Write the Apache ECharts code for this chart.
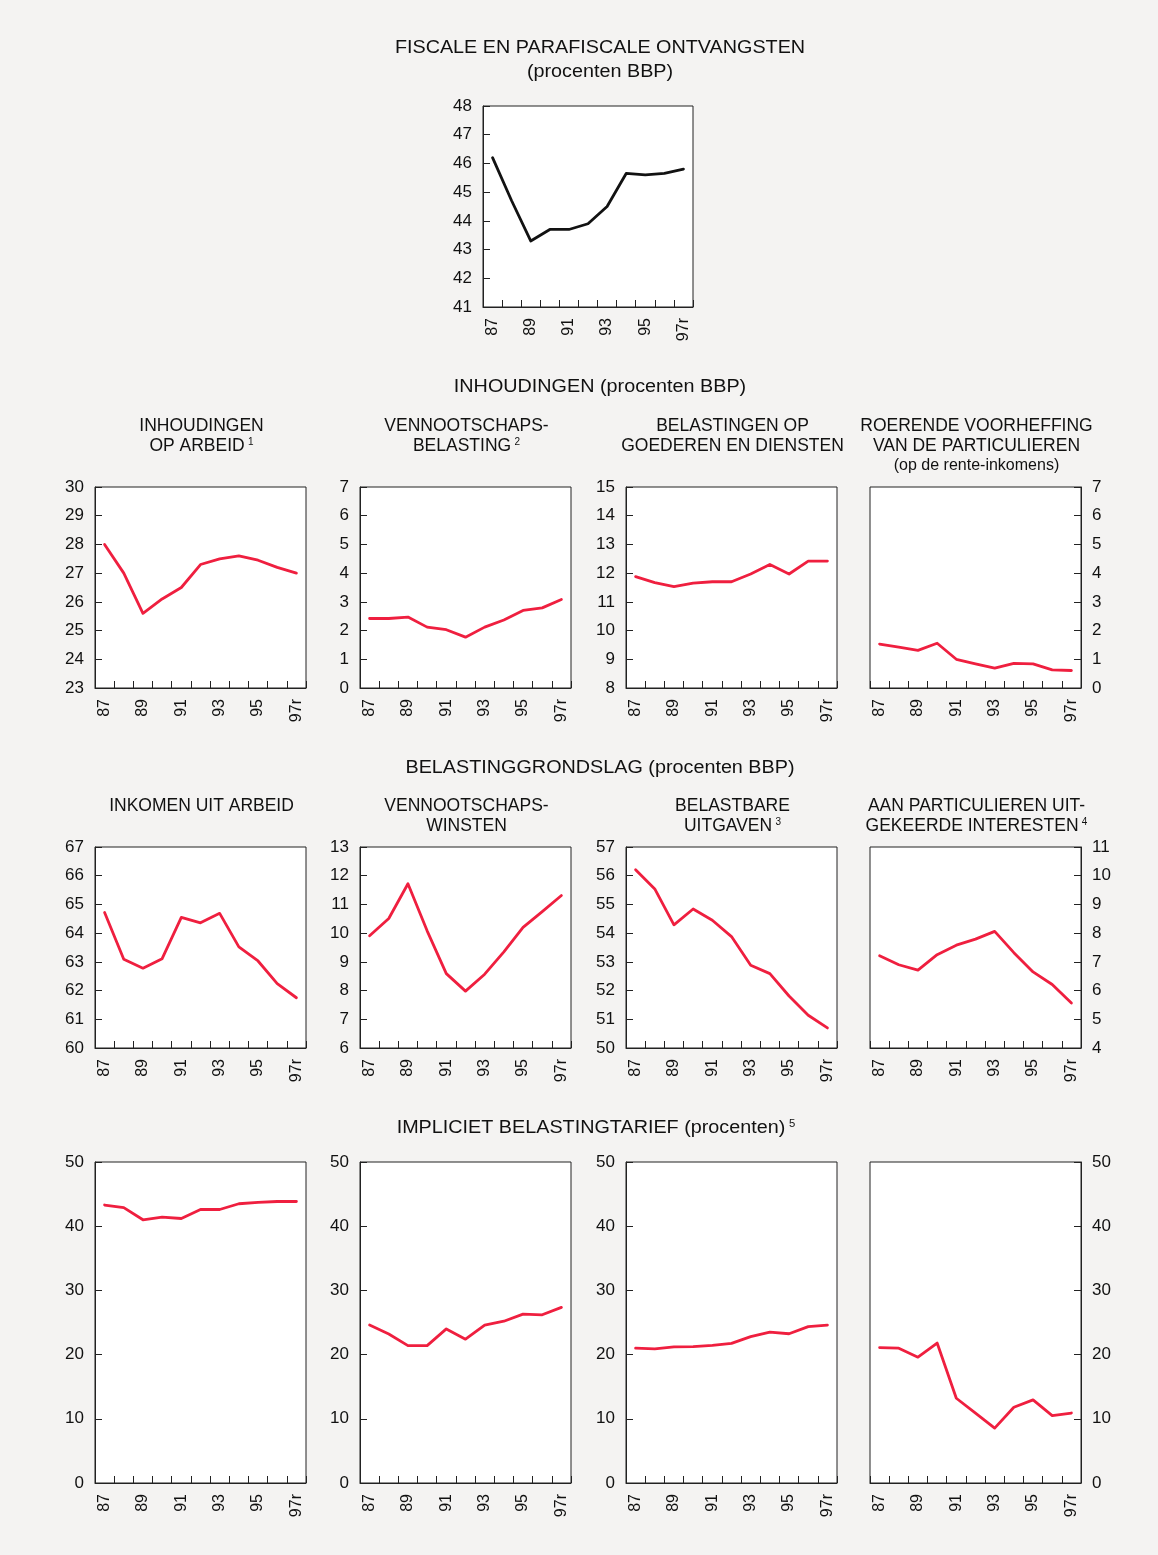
<!DOCTYPE html>
<html>
<head>
<meta charset="utf-8">
<script src="https://cdn.jsdelivr.net/npm/echarts@6/dist/echarts.min.js"></script>
<style>
  html, body { margin: 0; padding: 0; background: #f4f3f2; }
  #chart { width: 1158px; height: 1555px; }
</style>
</head>
<body>
<div id="chart"></div>
<script>
// Years on every horizontal axis (1987 .. 1997, last one provisional)
const years = ['87', '88', '89', '90', '91', '92', '93', '94', '95', '96', '97r'];

// Fiscale en parafiscale ontvangsten (procenten BBP)
const ontvangsten = [46.2, 44.7, 43.3, 43.7, 43.7, 43.9, 44.5, 45.65, 45.6, 45.65, 45.8];

// Inhoudingen (procenten BBP)
const inhoudingenArbeid = [28.0, 27.0, 25.6, 26.1, 26.5, 27.3, 27.5, 27.6, 27.45, 27.2, 27.0];
const vennootschapsBelasting = [2.42, 2.42, 2.47, 2.12, 2.03, 1.77, 2.12, 2.37, 2.70, 2.79, 3.08];
const goederenDiensten = [11.88, 11.67, 11.53, 11.65, 11.70, 11.70, 11.97, 12.30, 11.97, 12.42, 12.42];
const roerendeVoorheffing = [1.53, 1.42, 1.31, 1.56, 1.00, 0.84, 0.69, 0.86, 0.84, 0.63, 0.61];

// Belastinggrondslag (procenten BBP)
const inkomenArbeid = [64.72, 63.09, 62.78, 63.11, 64.55, 64.36, 64.69, 63.52, 63.03, 62.24, 61.75];
const vennootschapsWinsten = [9.91, 10.51, 11.72, 10.08, 8.59, 7.98, 8.57, 9.35, 10.2, 10.75, 11.31];
const belastbareUitgaven = [56.21, 55.54, 54.29, 54.84, 54.45, 53.88, 52.88, 52.59, 51.81, 51.14, 50.70];
const uitgekeerdeInteresten = [7.21, 6.90, 6.71, 7.25, 7.58, 7.79, 8.06, 7.32, 6.65, 6.21, 5.57];

// Impliciet belastingtarief (procenten)
const tariefArbeid = [43.3, 42.9, 41.0, 41.4, 41.2, 42.6, 42.6, 43.5, 43.7, 43.85, 43.85];
const tariefVennootschap = [24.6, 23.2, 21.4, 21.4, 24.0, 22.4, 24.6, 25.2, 26.3, 26.2, 27.35];
const tariefGoederen = [21.0, 20.9, 21.2, 21.25, 21.45, 21.75, 22.8, 23.5, 23.25, 24.35, 24.6];
const tariefRente = [21.1, 21.0, 19.6, 21.8, 13.2, 10.9, 8.55, 11.8, 12.95, 10.5, 10.9];

const FONT = "'Liberation Sans', Arial, Helvetica, sans-serif";
const INK = '#111111';
const FRAME = '#222222';
const RED = '#ef1f3f';

// Column / row placement of the small multiples
const COLS = [95, 360, 626, 870];
const PW = 211;
const ROW2 = 487, ROW3 = 847, ROW4 = 1162;
const PH = 201, PH4 = 321;

const panels = [
  { values: ontvangsten, min: 41, max: 48, step: 1, side: 'left', color: '#121212', left: 483, top: 106, width: 210, height: PH },

  { values: inhoudingenArbeid, min: 23, max: 30, step: 1, side: 'left', color: RED, left: COLS[0], top: ROW2, width: PW, height: PH },
  { values: vennootschapsBelasting, min: 0, max: 7, step: 1, side: 'left', color: RED, left: COLS[1], top: ROW2, width: PW, height: PH },
  { values: goederenDiensten, min: 8, max: 15, step: 1, side: 'left', color: RED, left: COLS[2], top: ROW2, width: PW, height: PH },
  { values: roerendeVoorheffing, min: 0, max: 7, step: 1, side: 'right', color: RED, left: COLS[3], top: ROW2, width: PW, height: PH },

  { values: inkomenArbeid, min: 60, max: 67, step: 1, side: 'left', color: RED, left: COLS[0], top: ROW3, width: PW, height: PH },
  { values: vennootschapsWinsten, min: 6, max: 13, step: 1, side: 'left', color: RED, left: COLS[1], top: ROW3, width: PW, height: PH },
  { values: belastbareUitgaven, min: 50, max: 57, step: 1, side: 'left', color: RED, left: COLS[2], top: ROW3, width: PW, height: PH },
  { values: uitgekeerdeInteresten, min: 4, max: 11, step: 1, side: 'right', color: RED, left: COLS[3], top: ROW3, width: PW, height: PH },

  { values: tariefArbeid, min: 0, max: 50, step: 10, side: 'left', color: RED, left: COLS[0], top: ROW4, width: PW, height: PH4 },
  { values: tariefVennootschap, min: 0, max: 50, step: 10, side: 'left', color: RED, left: COLS[1], top: ROW4, width: PW, height: PH4 },
  { values: tariefGoederen, min: 0, max: 50, step: 10, side: 'left', color: RED, left: COLS[2], top: ROW4, width: PW, height: PH4 },
  { values: tariefRente, min: 0, max: 50, step: 10, side: 'right', color: RED, left: COLS[3], top: ROW4, width: PW, height: PH4 }
];

// Headings: section headings are set wide, panel headings plain
const sectionTitles = [
  { text: 'FISCALE EN PARAFISCALE ONTVANGSTEN', x: 600, y: 48 },
  { text: '(procenten BBP)', x: 600, y: 72 },
  { text: 'INHOUDINGEN (procenten BBP)', x: 600, y: 387 },
  { text: 'BELASTINGGRONDSLAG (procenten BBP)', x: 600, y: 768 },
  { text: 'IMPLICIET BELASTINGTARIEF (procenten)', sup: '5', x: 596, y: 1128 }
];

const centre = c => COLS[c] + PW / 2 + 1;
const panelTitles = [
  { text: 'INHOUDINGEN', x: centre(0), y: 426 },
  { text: 'OP ARBEID', sup: '1', x: centre(0), y: 446 },
  { text: 'VENNOOTSCHAPS-', x: centre(1), y: 426 },
  { text: 'BELASTING', sup: '2', x: centre(1), y: 446 },
  { text: 'BELASTINGEN OP', x: centre(2), y: 426 },
  { text: 'GOEDEREN EN DIENSTEN', x: centre(2), y: 446 },
  { text: 'ROERENDE VOORHEFFING', x: centre(3), y: 426 },
  { text: 'VAN DE PARTICULIEREN', x: centre(3), y: 446 },
  { text: '(op de rente-inkomens)', x: centre(3), y: 466, small: true },

  { text: 'INKOMEN UIT ARBEID', x: centre(0), y: 806 },
  { text: 'VENNOOTSCHAPS-', x: centre(1), y: 806 },
  { text: 'WINSTEN', x: centre(1), y: 826 },
  { text: 'BELASTBARE', x: centre(2), y: 806 },
  { text: 'UITGAVEN', sup: '3', x: centre(2), y: 826 },
  { text: 'AAN PARTICULIEREN UIT-', x: centre(3), y: 806 },
  { text: 'GEKEERDE INTERESTEN', sup: '4', x: centre(3), y: 826 }
];

function textGraphic(t, size, scaleX) {
  const str = t.sup ? '{m|' + t.text + '} {s|' + t.sup + '}' : '{m|' + t.text + '}';
  return {
    type: 'text',
    x: t.x,
    y: t.y,
    scaleX: scaleX,
    silent: true,
    style: {
      text: str,
      textAlign: 'center',
      textVerticalAlign: 'middle',
      fill: INK,
      rich: {
        m: { fontFamily: FONT, fontSize: size, fill: INK, color: INK },
        s: { fontFamily: FONT, fontSize: 10, fill: INK, color: INK, verticalAlign: 'top' }
      }
    }
  };
}

const graphics = []
  .concat(sectionTitles.map(t => textGraphic(t, 17.5, 1.13)))
  .concat(panelTitles.map(t => textGraphic(t, t.small ? 16 : 17.5, 1.0)));

const option = {
  animation: false,
  backgroundColor: '#f4f3f2',
  textStyle: { fontFamily: FONT },
  grid: panels.map(p => ({
    left: p.left, top: p.top, width: p.width, height: p.height,
    show: true, backgroundColor: '#ffffff', borderColor: FRAME, borderWidth: 1
  })),
  xAxis: panels.map((p, i) => ({
    type: 'category',
    gridIndex: i,
    data: years,
    boundaryGap: true,
    axisLine: { show: true, lineStyle: { color: FRAME, width: 1 } },
    axisTick: { show: true, inside: true, length: 7, interval: 0, lineStyle: { color: FRAME, width: 1 } },
    axisLabel: { interval: 1, rotate: 90, fontSize: 16, fontFamily: FONT, color: INK, margin: 11 },
    splitLine: { show: false }
  })),
  yAxis: panels.map((p, i) => ({
    type: 'value',
    gridIndex: i,
    position: p.side,
    min: p.min,
    max: p.max,
    interval: p.step,
    axisLine: { show: true, lineStyle: { color: FRAME, width: 1 } },
    axisTick: { show: true, inside: true, length: 7, lineStyle: { color: FRAME, width: 1 } },
    axisLabel: { fontSize: 17, fontFamily: FONT, color: INK, margin: 11 },
    splitLine: { show: false }
  })),
  series: panels.map((p, i) => ({
    type: 'line',
    xAxisIndex: i,
    yAxisIndex: i,
    data: p.values,
    symbol: 'none',
    showSymbol: false,
    silent: true,
    lineStyle: { color: p.color, width: 2.8, join: 'round', cap: 'round' },
    itemStyle: { color: p.color }
  })),
  graphic: graphics
};

const chart = echarts.init(document.getElementById('chart'), null, { renderer: 'canvas' });
chart.setOption(option);
</script>
</body>
</html>
